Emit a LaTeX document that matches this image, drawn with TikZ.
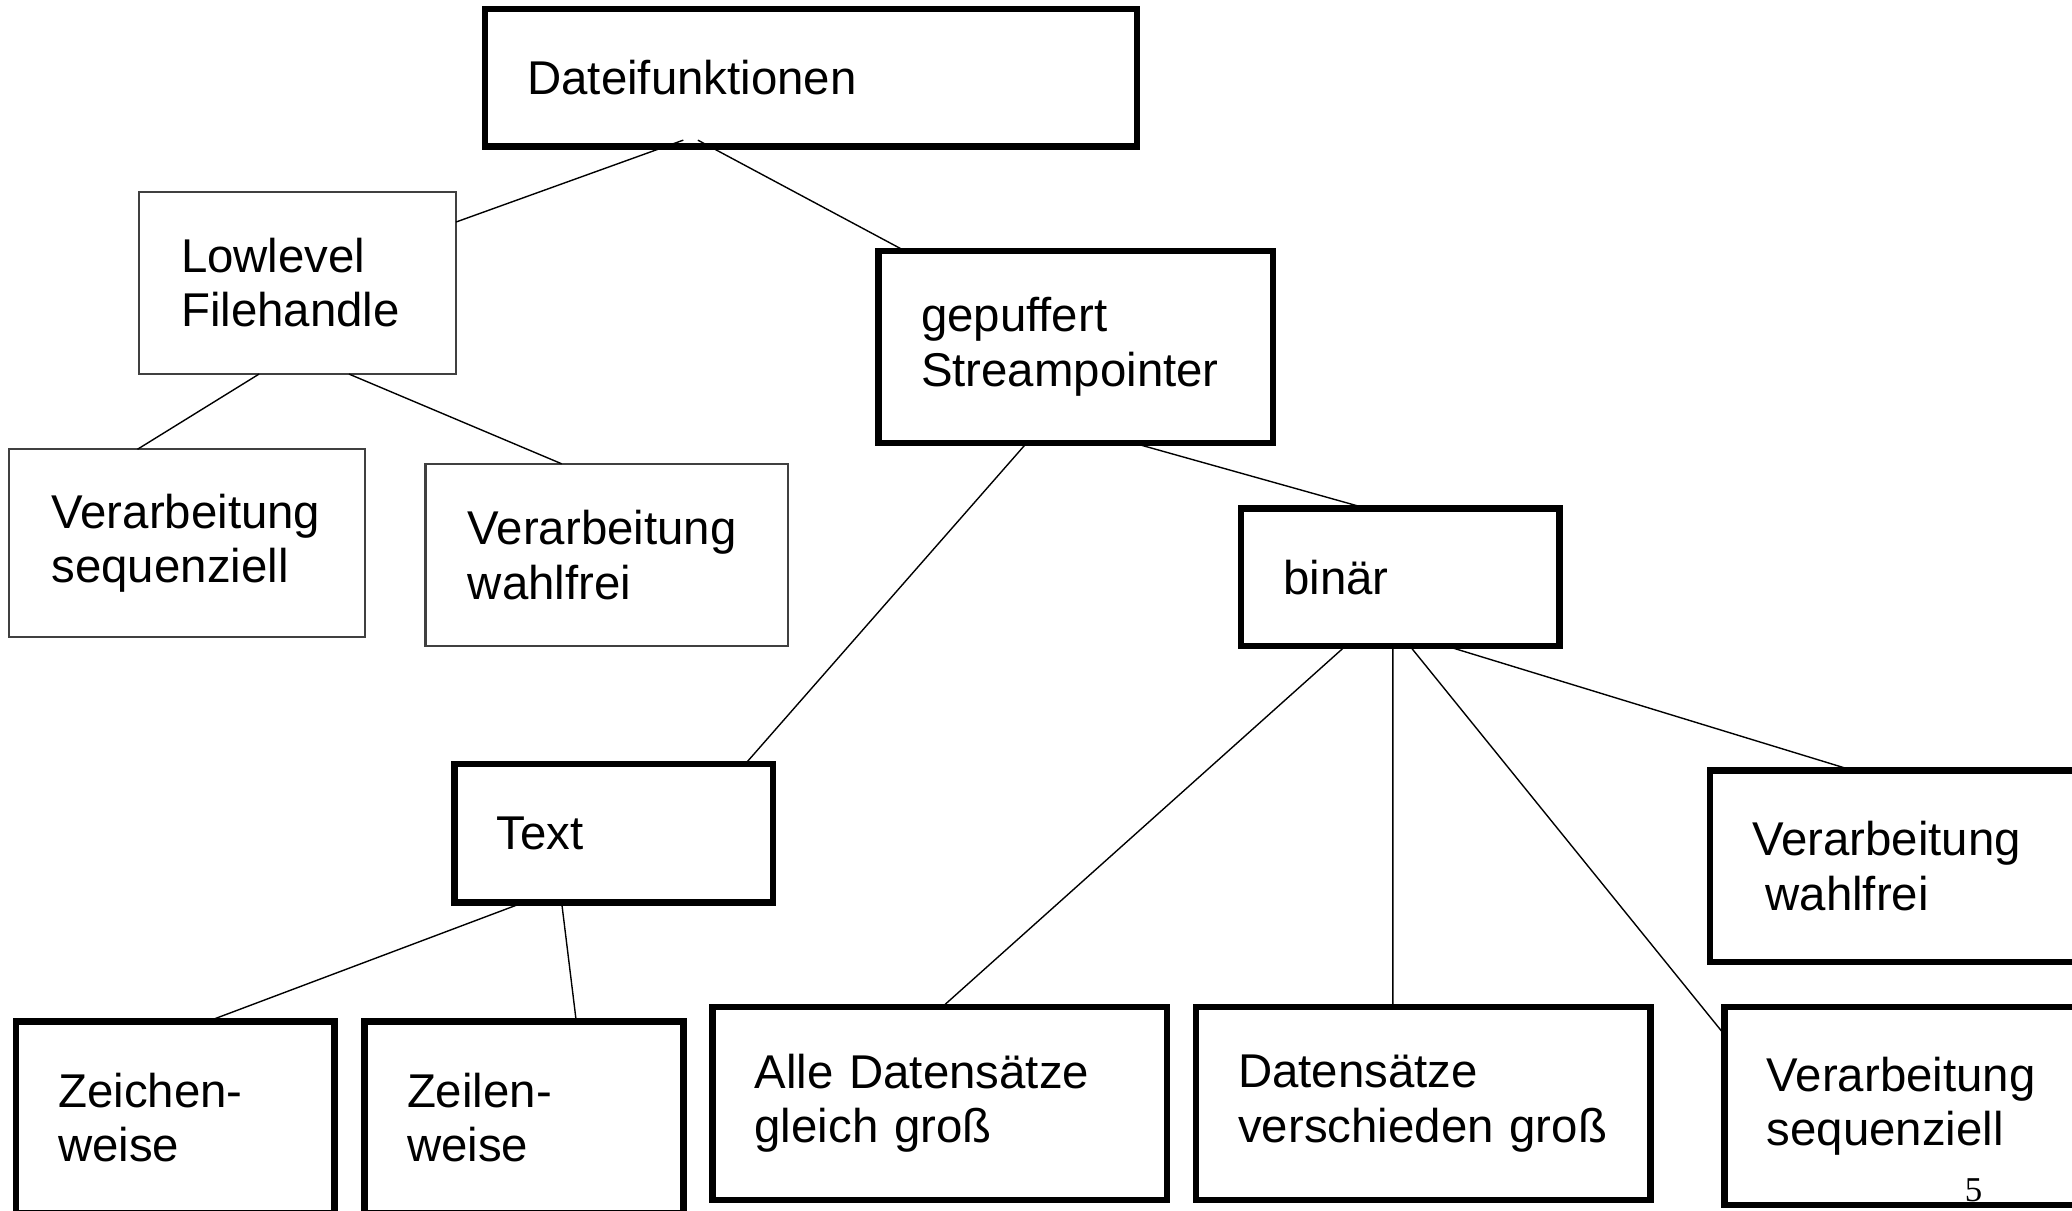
\documentclass[tikz,border=0pt]{standalone}
\usepackage{fontspec}
\setmainfont{Liberation Sans}
\newfontfamily\seitenfont{Liberation Serif}

\tikzset{
	kasten/.style={draw, rectangle, line width=1.4pt, anchor=north west, align=left, inner xsep=0.32cm, inner ysep=0pt, outer sep=0pt, font=\fontsize{10.2}{11.7}\selectfont},
	duenn/.style={kasten, draw=black!75, line width=0.45pt},
	linie/.style={line width=0.3pt}
}

\begin{document}
\begin{tikzpicture}[x=0.01cm,y=-0.01cm]
	\useasboundingbox (0,0) rectangle (1568,916);
	\fill[white] (0,0) rectangle (1568,916);
	\clip (0,0) rectangle (1568,916);
	
	%OBEN
	\node[kasten, text width=4.29cm, minimum height=1.04cm] (datei) at (367,7) {Dateifunktionen};
	
	%LOWLEVEL
	\node[duenn, text width=1.76cm, minimum height=1.38cm] (lowlevel) at (105,145) {Lowlevel\\Filehandle};
	\node[duenn, text width=2.05cm, minimum height=1.42cm] (lseq) at (7,340) {Verarbeitung\\sequenziell};
	\node[duenn, text width=2.10cm, minimum height=1.38cm] (lwahl) at (322,351) {Verarbeitung\\wahlfrei};
	
	%GEPUFFERT
	\node[kasten, text width=2.34cm, minimum height=1.45cm] (gepuf) at (665,190) {gepuffert\\Streampointer};
	\node[kasten, text width=1.77cm, minimum height=1.04cm] (binaer) at (939,385) {binär};
	\node[kasten, text width=1.77cm, minimum height=1.05cm] (textk) at (344,578) {Text};
	
	%TEXT
	\node[kasten, text width=1.77cm, minimum height=1.45cm] (zeichen) at (12,773) {Zeichen-\\weise};
	\node[kasten, text width=1.77cm, minimum height=1.45cm] (zeilen) at (276,773) {Zeilen-\\weise};
	
	%BINAER
	\node[kasten, text width=2.80cm, minimum height=1.46cm] (alle) at (539,762) {Alle~Datensätze\\gleich~groß};
	\node[kasten, text width=2.80cm, minimum height=1.46cm] (versch) at (905,762) {Datensätze\\verschieden~groß};
	\node[kasten, text width=2.36cm, minimum height=1.45cm] (rwahl) at (1294,583) {Verarbeitung\\\hspace*{0.28em}wahlfrei};
	\node[kasten, text width=2.36cm, minimum height=1.50cm] (rseq) at (1305,762) {Verarbeitung\\sequenziell};
	
	%VERBINDUNGEN
	\draw[linie] ([xshift=-9.65mm,yshift=0.5mm]datei.south) -- ([yshift=-2.3mm]lowlevel.north east);
	\draw[linie] ([xshift=-8.55mm,yshift=0.5mm]datei.south) -- ([xshift=2mm]gepuf.north west);
	\draw[linie] ([xshift=-2.9mm]lowlevel.south) -- ([xshift=-3.75mm]lseq.north);
	\draw[linie] ([xshift=3.9mm]lowlevel.south) -- ([xshift=-3.4mm]lwahl.north);
	\draw[linie] ([xshift=-3.7mm]gepuf.south) -- ([xshift=-2.1mm]textk.north east);
	\draw[linie] ([xshift=4.3mm]gepuf.south) -- ([xshift=-2.45mm]binaer.north);
	\draw[linie] ([xshift=-4.15mm]binaer.south) -- ([xshift=0.2mm]alle.north);
	\draw[linie] ([xshift=-0.55mm]binaer.south) -- ([xshift=-2.3mm]versch.north);
	\draw[linie] ([xshift=0.75mm]binaer.south) -- ([yshift=-2.1mm]rseq.north west);
	\draw[linie] ([xshift=3.55mm]binaer.south) -- ([xshift=10.8mm]rwahl.north west);
	\draw[linie] ([xshift=-6.85mm]textk.south) -- ([xshift=2.45mm]zeichen.north);
	\draw[linie] ([xshift=-3.95mm]textk.south) -- ([xshift=3.95mm]zeilen.north);
	
	%SEITE
	\node[font=\seitenfont\fontsize{7.5}{9}\selectfont, inner sep=0pt] (seite) at (1493.5,901) {5};
\end{tikzpicture}
\end{document}
